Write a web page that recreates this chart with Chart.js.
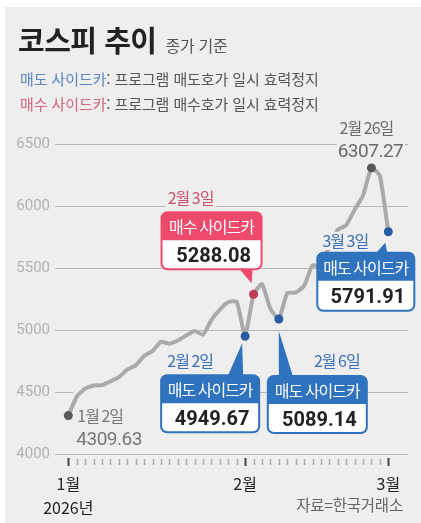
<!DOCTYPE html>
<html lang="ko">
<head>
<meta charset="UTF-8">
<title>코스피 추이</title>
<script src="https://cdn.jsdelivr.net/npm/chart.js"></script>
<style>
    body { margin: 0; background: #fff; font-family: "Noto Sans CJK KR", sans-serif; }
    .panel { position: absolute; left: 5px; top: 7px; width: 416px; height: 516px; background: #eeeeee; }
    #chart { position: absolute; left: 0; top: 0; }
    .title { position: absolute; left: 18px; top: 25px; font-size: 29px; font-weight: bold; color: #222; letter-spacing: -0.5px; line-height: 1; white-space: nowrap; }
    .title span { font-size: 16px; font-weight: normal; color: #555; letter-spacing: -0.3px; margin-left: 9px; }
    .legend { position: absolute; left: 20px; font-size: 15px; color: #555; letter-spacing: -0.1px; line-height: 1; white-space: nowrap; }
    .sell { color: #5a86c4; }
    .buy { color: #d0667f; }
    .source { position: absolute; right: 18px; top: 497px; font-size: 15.5px; color: #666; letter-spacing: -0.2px; line-height: 1; }
</style>
</head>
<body>
<div class="panel"></div>
<canvas id="chart" width="421" height="523"></canvas>
<div class="title">코스피 추이<span>종가 기준</span></div>
<div class="legend" style="top:71px"><span class="sell">매도 사이드카</span>: 프로그램 매도호가 일시 효력정지</div>
<div class="legend" style="top:96px"><span class="buy">매수 사이드카</span>: 프로그램 매수호가 일시 효력정지</div>
<div class="source">자료=한국거래소</div>

<script>
    // trading days, 2026
    const tradingDays = [
        '1/2', '1/5', '1/6', '1/7', '1/8', '1/9', '1/12', '1/13', '1/14', '1/15', '1/16',
        '1/19', '1/20', '1/21', '1/22', '1/23', '1/26', '1/27', '1/28', '1/29', '1/30',
        '2/2', '2/3', '2/4', '2/5', '2/6', '2/9', '2/10', '2/11', '2/12', '2/13',
        '2/19', '2/20', '2/23', '2/24', '2/25', '2/26', '2/27', '3/3'
    ];
    const closes = [
        4309.63, 4463, 4528, 4553, 4555, 4586, 4620, 4680, 4715, 4790, 4830,
        4905, 4890, 4915, 4955, 4992, 4962, 5082, 5165, 5225, 5228,
        4949.67, 5288.08, 5371, 5170, 5089.14, 5298, 5302, 5355, 5522, 5507,
        5677, 5808, 5846, 5970, 6084, 6307.27, 6244, 5791.91
    ];
    const yTicks = [4000, 4500, 5000, 5500, 6000, 6500];
    const monthDays = ['1/2', '2/2', '3/3'];
    const monthLabels = [['1월', '2026년'], '2월', '3월'];

    // sidecar callouts
    const sidecarDays = ['2/3', '2/2', '2/6', '3/3'];
    const sidecarTypes = ['buy', 'sell', 'sell', 'sell'];
    const sidecarDates = ['2월 3일', '2월 2일', '2월 6일', '3월 3일'];
    const sidecarValues = ['5288.08', '4949.67', '5089.14', '5791.91'];
    const typeTitles = { buy: '매수 사이드카', sell: '매도 사이드카' };

    const plainLabels = [
        { day: '1/2', date: '1월 2일', value: '4309.63' },
        { day: '2/26', date: '2월 26일', value: '6307.27' }
    ];

    const BLUE = '#2f72bd', PINK = '#ee4b6c';
    const typeColors = { buy: PINK, sell: BLUE };
    const dotColors = { buy: '#c23b5b', sell: '#2a5ca6' };
    const labelColors = { buy: '#c8536f', sell: '#3b6fb6' };

    // box placement relative to the point (dx, dy = box top-left; tip; pointer base)
    const boxLayout = [
        { dx: -93, dy: -83, w: 102, h: 59, tx: -2, ty: -11, b1: -14, b2: -1, below: false, lx: -63, ly: -90 },
        { dx: -85, dy: 38, w: 100, h: 59, tx: -3, ty: 7, b1: -17, b2: -2, below: true, lx: -55, ly: 31 },
        { dx: -12, dy: 56, w: 101, h: 59, tx: 0, ty: 12, b1: 0, b2: 14, below: true, lx: 58, ly: 48 },
        { dx: -72, dy: 20, w: 99, h: 60, tx: -3, ty: 11, b1: -12, b2: -1, below: true, lx: -43, ly: 15 }
    ];

    const KR = '"Noto Sans CJK KR", sans-serif';
    const NUM = 'Roboto, sans-serif';

    const pointColor = tradingDays.map(d => {
        const k = sidecarDays.indexOf(d);
        if (k >= 0) return dotColors[sidecarTypes[k]];
        return '#585858';
    });
    const pointSize = tradingDays.map(d =>
        (sidecarDays.includes(d) || plainLabels.some(p => p.day === d)) ? 4.5 : 0);

    function textWithBg(ctx, text, x, y, align) {
        ctx.textAlign = align;
        const m = ctx.measureText(text);
        const left = x - m.actualBoundingBoxLeft - 2;
        const w = m.actualBoundingBoxLeft + m.actualBoundingBoxRight + 4;
        const top = y - m.actualBoundingBoxAscent - 1;
        const h = m.actualBoundingBoxAscent + m.actualBoundingBoxDescent + 2;
        const fill = ctx.fillStyle;
        ctx.fillStyle = '#eeeeee';
        ctx.fillRect(left, top, w, h);
        ctx.fillStyle = fill;
        ctx.fillText(text, x, y);
    }

    const tickMarks = {
        id: 'tickMarks',
        afterDraw(chart) {
            const ctx = chart.ctx, xs = chart.scales.x, b = chart.chartArea.bottom;
            ctx.save();
            tradingDays.forEach((d, i) => {
                const x = Math.round(xs.getPixelForValue(i)) + 0.5;
                const major = monthDays.includes(d);
                ctx.strokeStyle = major ? '#444' : '#aaa';
                ctx.lineWidth = major ? 2 : 1.5;
                ctx.beginPath();
                ctx.moveTo(x, b + (major ? 4 : 5));
                ctx.lineTo(x, b + (major ? 12 : 11));
                ctx.stroke();
            });
            ctx.restore();
        }
    };

    const labels = {
        id: 'labels',
        beforeDatasetsDraw(chart) {
            // background behind the first-day label (under the line)
            const ctx = chart.ctx;
            const i = tradingDays.indexOf(plainLabels[0].day);
            const px = chart.scales.x.getPixelForValue(i);
            const py = chart.scales.y.getPixelForValue(closes[i]);
            ctx.save();
            ctx.fillStyle = '#eeeeee';
            ctx.fillRect(px + 5, py - 26, 87, 60);
            ctx.restore();
        },
        afterDatasetsDraw(chart) {
            const ctx = chart.ctx, xs = chart.scales.x, ys = chart.scales.y;
            ctx.save();
            ctx.textBaseline = 'alphabetic';

            // first day
            let i = tradingDays.indexOf(plainLabels[0].day);
            let px = xs.getPixelForValue(i), py = ys.getPixelForValue(closes[i]);
            ctx.fillStyle = '#777';
            ctx.letterSpacing = '-1px';
            ctx.font = '16px ' + KR;
            ctx.textAlign = 'left';
            ctx.fillText(plainLabels[0].date, px + 9, py + 6);
            ctx.letterSpacing = '-0.5px';
            ctx.font = '19px ' + NUM;
            ctx.fillText(plainLabels[0].value, px + 8, py + 29);

            // peak
            i = tradingDays.indexOf(plainLabels[1].day);
            px = xs.getPixelForValue(i); py = ys.getPixelForValue(closes[i]);
            ctx.fillStyle = '#6a6a6a';
            ctx.letterSpacing = '-1px';
            ctx.font = '16px ' + KR;
            textWithBg(ctx, plainLabels[1].date, px - 5, py - 34, 'center');
            ctx.letterSpacing = '-0.5px';
            ctx.font = '19px ' + NUM;
            textWithBg(ctx, plainLabels[1].value, px - 1, py - 11, 'center');

            // sidecar boxes
            sidecarDays.forEach((d, k) => {
                const j = tradingDays.indexOf(d);
                const x = xs.getPixelForValue(j), y = ys.getPixelForValue(closes[j]);
                const c = boxLayout[k];
                const color = typeColors[sidecarTypes[k]];
                const L = x + c.dx, T = y + c.dy, W = c.w, H = c.h, hh = 29, r = 7;
                const baseY = c.below ? T + 1 : T + H - 1;

                ctx.fillStyle = color;
                ctx.beginPath();
                ctx.moveTo(x + c.b1, baseY);
                ctx.lineTo(x + c.tx, y + c.ty);
                ctx.lineTo(x + c.b2, baseY);
                ctx.closePath();
                ctx.fill();

                ctx.beginPath();
                ctx.roundRect(L, T, W, H, r);
                ctx.fill();
                ctx.fillStyle = '#fff';
                ctx.beginPath();
                ctx.roundRect(L + 2, T + hh, W - 4, H - hh - 2, [0, 0, r - 2, r - 2]);
                ctx.fill();

                ctx.textAlign = 'center';
                ctx.letterSpacing = '-1px';
                ctx.font = '16px ' + KR;
                ctx.fillText(typeTitles[sidecarTypes[k]], L + W / 2, T + 22);
                ctx.fillStyle = '#222';
                ctx.letterSpacing = '0px';
                ctx.font = 'bold 20px ' + NUM;
                ctx.fillText(sidecarValues[k], L + W / 2 + 2, T + 51);

                ctx.fillStyle = labelColors[sidecarTypes[k]];
                ctx.letterSpacing = '-1px';
                ctx.font = '16px ' + KR;
                textWithBg(ctx, sidecarDates[k], x + c.lx, y + c.ly, 'center');
            });
            ctx.letterSpacing = '0px';
            ctx.restore();
        }
    };

    const monthIdx = monthDays.map(d => tradingDays.indexOf(d));

    new Chart(document.getElementById('chart'), {
        type: 'line',
        data: {
            datasets: [{
                data: closes.map((v, i) => ({ x: i, y: v })),
                borderColor: '#aaaaaa',
                borderWidth: 4,
                borderJoinStyle: 'round',
                borderCapStyle: 'round',
                tension: 0.15,
                pointRadius: pointSize,
                pointBackgroundColor: pointColor,
                pointBorderWidth: 0
            }]
        },
        options: {
            responsive: false,
            animation: false,
            devicePixelRatio: 1,
            layout: { padding: { left: 5, right: 13, top: 144, bottom: 0 } },
            plugins: { legend: { display: false }, tooltip: { enabled: false } },
            scales: {
                x: {
                    type: 'linear',
                    min: -1.58,
                    max: 40.34,
                    grid: { display: false, drawTicks: false },
                    border: { display: false },
                    afterBuildTicks: s => { s.ticks = monthIdx.map(v => ({ value: v })); },
                    afterFit: s => { s.height = 69; },
                    ticks: {
                        autoSkip: false,
                        maxRotation: 0,
                        padding: 18,
                        color: '#222',
                        font: { family: KR, size: 16, lineHeight: 1.5 },
                        callback: (v, i) => monthLabels[i]
                    }
                },
                y: {
                    min: 4000,
                    max: 6500,
                    afterBuildTicks: s => { s.ticks = yTicks.map(v => ({ value: v })); },
                    afterFit: s => { s.width = 50; },
                    grid: { color: '#b8b8b8', drawTicks: false },
                    border: { display: false },
                    ticks: { padding: 5, color: '#b3b3b3', font: { family: NUM, size: 15 }, callback: v => String(v) }
                }
            }
        },
        plugins: [tickMarks, labels]
    });
</script>
</body>
</html>
